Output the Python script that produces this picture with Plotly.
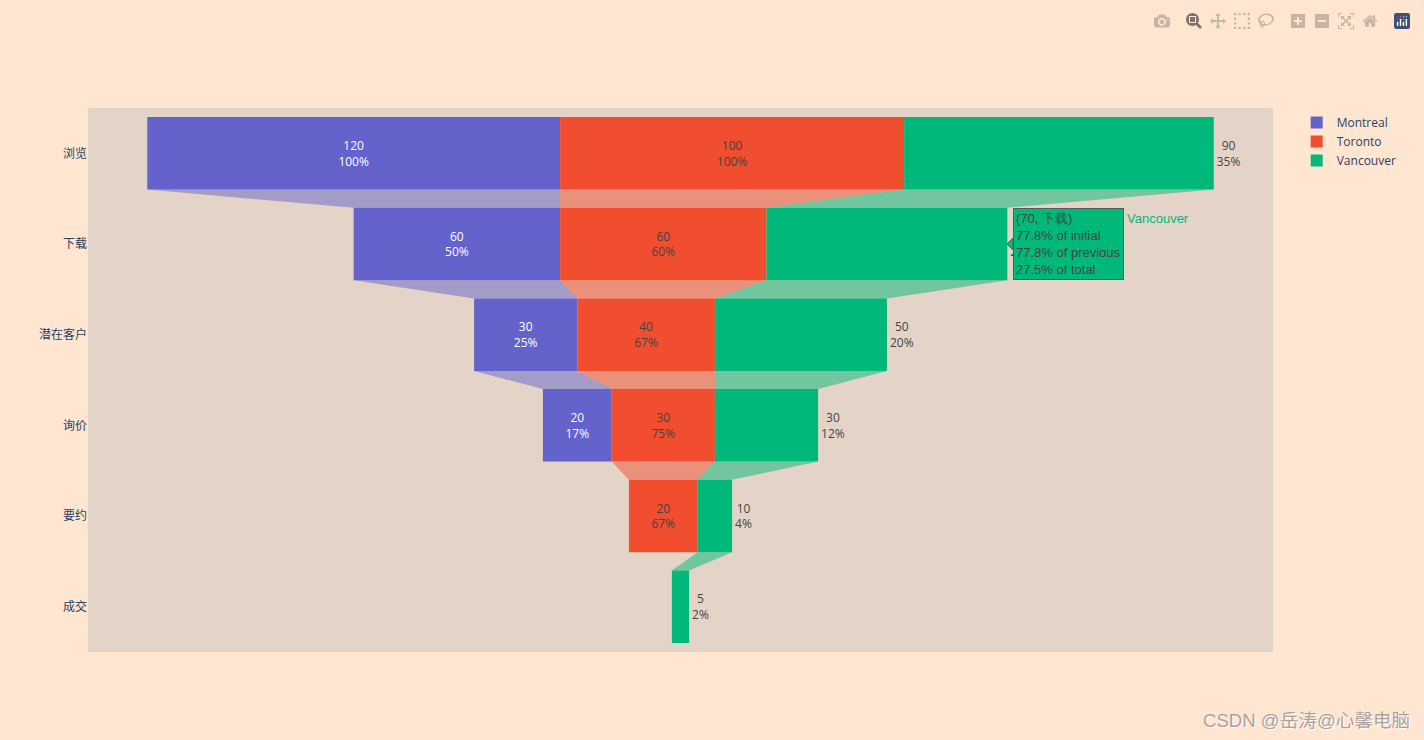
import plotly.graph_objs as go

stages = ['浏览', '下载', '潜在客户', '询价', '要约', '成交']
montreal = [120, 60, 30, 20]
toronto = [100, 60, 40, 30, 20]
vancouver = [90, 70, 50, 30, 10, 5]
hover_lines = ['(70, 下载)', '77.8% of initial', '77.8% of previous', '27.5% of total']

fig = go.Figure()
fig.add_trace(go.Funnel(name='Montreal', y=stages[:4], x=montreal, textinfo='value+percent initial',
                        marker=dict(color='#6363cb')))
fig.add_trace(go.Funnel(name='Toronto', y=stages[:5], x=toronto, orientation='h', textposition='inside',
                        textinfo='value+percent previous', marker=dict(color='#f04e2e'),
                        insidetextfont=dict(color='#444444')))
fig.add_trace(go.Funnel(name='Vancouver', y=stages, x=vancouver, orientation='h', textposition='outside',
                        textinfo='value+percent total', marker=dict(color='#00b87a'),
                        outsidetextfont=dict(color='#444444')))

# the hover box in the screenshot, kept as annotations
fig.add_annotation(xref='paper', yref='paper', x=0.7806, y=0.75, xanchor='left', yanchor='middle', align='left',
                   showarrow=False, text='<br>'.join(hover_lines), bgcolor='#00b87a', bordercolor='#5a5a5a',
                   borderwidth=1, borderpad=2, font=dict(family='Liberation Sans', size=13, color='#444444'))
fig.add_annotation(xref='paper', yref='paper', x=0.8751, y=0.796, xanchor='left', yanchor='middle',
                   showarrow=False, text='Vancouver', font=dict(family='Liberation Sans', size=13, color='#00b87a'))
fig.add_annotation(xref='paper', yref='paper', x=1.1173, y=-0.1268, xanchor='right', yanchor='middle',
                   showarrow=False, text='CSDN @岳涛@心馨电脑',
                   font=dict(family='Liberation Sans, Noto Sans CJK SC', size=18.6, color='#a9a29c',
                             shadow='1px 1px 1px #ffffff'))
# little pointer on the hover box
fig.add_shape(type='path', xref='paper', yref='paper', path='M 0.7755 0.75 L 0.7806 0.761 L 0.7806 0.739 Z',
              fillcolor='#00b87a', line=dict(color='#5a5a5a', width=1))

fig.update_layout(
    width=1424, height=740,
    paper_bgcolor='#ffe6d1', plot_bgcolor='#e3d4c7',
    margin=dict(l=88, r=151, t=108, b=88),
    font=dict(family='Open Sans, Noto Sans CJK SC', size=12, color='#2a3f5f'),
    funnelmode='stack',
)

# page tweaks: no body margin, modebar sits 8px in from the corner like the screenshot
css = ('.modebar-container{transform:translate(-8px,8px);}'
       '.plotlyjsicon svg rect:first-of-type{fill:#3f4f75 !important;}')
post_script = ('document.body.style.margin = "0";'
               'var s = document.createElement("style");'
               's.textContent = "%s";'
               'document.head.appendChild(s);' % css)
fig.write_html('out.html', config={'displayModeBar': True}, post_script=post_script)
